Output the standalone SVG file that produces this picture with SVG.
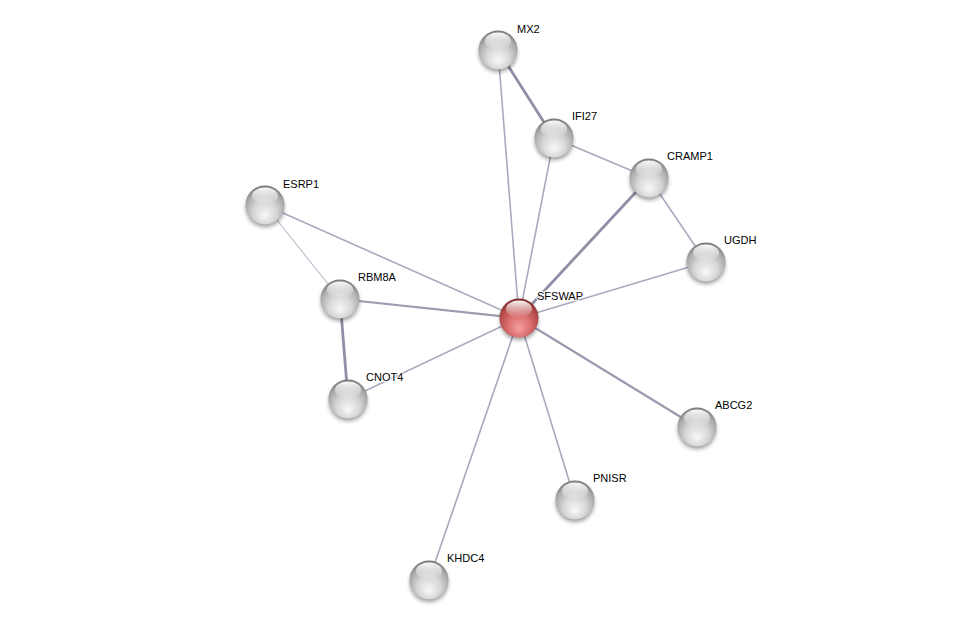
<svg xmlns="http://www.w3.org/2000/svg" width="975" height="625" viewBox="0 0 975 625">
<style>
.e{stroke:#a9a9bd;fill:none;stroke-linecap:round}
.w1{stroke-width:1.6}
.w2{stroke-width:2.2;stroke:#9b9bb0}
.w3{stroke-width:2.8;stroke:#8f8fa6}
.thin{stroke-width:1.2;stroke:#c0c0d0}
text{font-family:"Liberation Sans",Arial,sans-serif;font-size:11px;fill:#000;stroke:#fff;stroke-width:2.5px;stroke-opacity:0.8;paint-order:stroke;stroke-linejoin:round}
</style>
<defs>
<radialGradient id="gg" cx="50%" cy="62%" r="60%" fx="50%" fy="78%">
<stop offset="0" stop-color="#f8f8f8"/>
<stop offset="0.5" stop-color="#d6d6d6"/>
<stop offset="0.85" stop-color="#a8a8a8"/>
<stop offset="1" stop-color="#7c7c7c"/>
</radialGradient>
<radialGradient id="rg" cx="50%" cy="62%" r="60%" fx="50%" fy="78%">
<stop offset="0" stop-color="#f6a0a0"/>
<stop offset="0.5" stop-color="#d96d6d"/>
<stop offset="0.85" stop-color="#b24747"/>
<stop offset="1" stop-color="#7f2a2a"/>
</radialGradient>
<linearGradient id="hl" x1="0" y1="0" x2="0" y2="1">
<stop offset="0" stop-color="#fff" stop-opacity="0.95"/>
<stop offset="1" stop-color="#fff" stop-opacity="0"/>
</linearGradient>
<filter id="sh" x="-50%" y="-50%" width="200%" height="200%">
<feGaussianBlur stdDeviation="2"/>
</filter>
<g id="gs">
<circle cx="0" cy="3" r="19" fill="#000" opacity="0.4" filter="url(#sh)"/>
<circle r="19.5" fill="url(#gg)"/>
<ellipse cx="0" cy="-9" rx="13" ry="8.5" fill="url(#hl)"/>
</g>
<g id="rs">
<circle cx="0" cy="3" r="19" fill="#000" opacity="0.4" filter="url(#sh)"/>
<circle r="19.5" fill="url(#rg)"/>
<ellipse cx="0" cy="-9" rx="13" ry="8.5" fill="url(#hl)"/>
</g>
</defs>
<rect width="975" height="625" fill="#fff"/>
<g id="edges">
<line class="e w3" x1="498" y1="50" x2="554" y2="138"/>
<line class="e w1" x1="498" y1="50" x2="519" y2="318"/>
<line class="e w1" x1="554" y1="138" x2="519" y2="318"/>
<line class="e w1" x1="554" y1="138" x2="649" y2="178"/>
<line class="e w3" x1="649" y1="178" x2="519" y2="318"/>
<line class="e w1" x1="649" y1="178" x2="706" y2="262"/>
<line class="e w1" x1="706" y1="262" x2="519" y2="318"/>
<line class="e w1" x1="265" y1="205" x2="519" y2="318"/>
<line class="e thin" x1="265" y1="205" x2="340" y2="299"/>
<line class="e w2" x1="340" y1="299" x2="519" y2="318"/>
<line class="e w3" x1="340" y1="299" x2="348" y2="399"/>
<line class="e w1" x1="348" y1="399" x2="519" y2="318"/>
<line class="e w2" x1="697" y1="427" x2="519" y2="318"/>
<line class="e w1" x1="575" y1="500" x2="519" y2="318"/>
<line class="e w1" x1="429" y1="580" x2="519" y2="318"/>
</g>
<g id="MX2"><use href="#gs" x="498" y="50"/><text x="517" y="33">MX2</text></g>
<g id="IFI27"><use href="#gs" x="554" y="138"/><text x="572" y="120">IFI27</text></g>
<g id="CRAMP1"><use href="#gs" x="649" y="178"/><text x="667" y="160">CRAMP1</text></g>
<g id="UGDH"><use href="#gs" x="706" y="262"/><text x="724" y="244">UGDH</text></g>
<g id="ESRP1"><use href="#gs" x="265" y="205"/><text x="283" y="188">ESRP1</text></g>
<g id="RBM8A"><use href="#gs" x="340" y="299"/><text x="358" y="281">RBM8A</text></g>
<g id="CNOT4"><use href="#gs" x="348" y="399"/><text x="366" y="381">CNOT4</text></g>
<g id="ABCG2"><use href="#gs" x="697" y="427"/><text x="715" y="409">ABCG2</text></g>
<g id="PNISR"><use href="#gs" x="575" y="500"/><text x="593" y="482">PNISR</text></g>
<g id="KHDC4"><use href="#gs" x="429" y="580"/><text x="447" y="562">KHDC4</text></g>
<g id="SFSWAP"><use href="#rs" x="519" y="318"/><text x="537" y="300">SFSWAP</text></g>
</svg>
